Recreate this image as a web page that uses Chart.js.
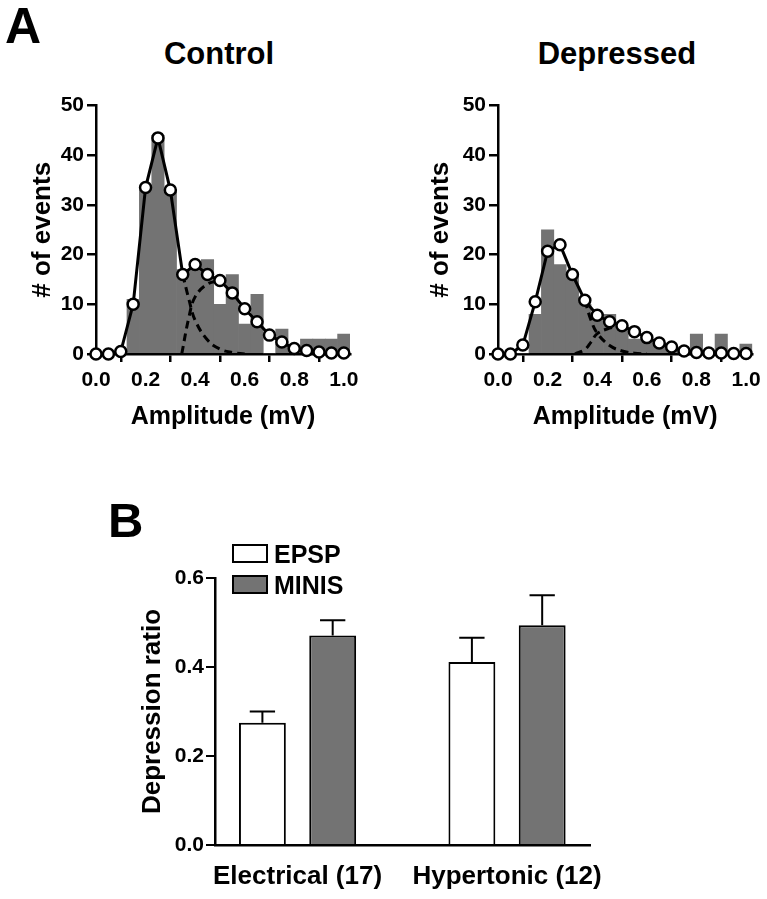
<!DOCTYPE html>
<html>
<head>
<meta charset="utf-8">
<script src="https://cdn.jsdelivr.net/npm/chart.js@4.4.0/dist/chart.umd.min.js"></script>
<style>
  body { margin: 0; background: #fff; }
  #page { position: relative; width: 767px; height: 899px; overflow: hidden; background: #fff;
          font-family: "Liberation Sans", Arial, sans-serif; font-weight: bold; color: #000; }
  .lbl { position: absolute; line-height: 1; white-space: nowrap; }
  .ctr { text-align: center; }
  canvas { position: absolute; }
  .key { position: absolute; width: 32px; height: 15px; border: 2px solid #000; }
</style>
</head>
<body>
<div id="page">
  <div class="lbl" style="left:5px; top:1px; font-size:50px;">A</div>
  <div class="lbl ctr" style="left:119px; top:38px; width:200px; font-size:31px;">Control</div>
  <div class="lbl ctr" style="left:517px; top:38px; width:200px; font-size:31px;">Depressed</div>
  <div class="lbl" style="left:108px; top:496px; font-size:49px;">B</div>

  <canvas id="control" width="383" height="354" style="left:0; top:90px;"></canvas>
  <canvas id="depressed" width="384" height="354" style="left:383px; top:90px;"></canvas>
  <canvas id="ratio" width="767" height="379" style="left:0; top:520px;"></canvas>

  <div class="key" style="left:232px; top:544px; background:#fff;"></div>
  <div class="lbl" style="left:274px; top:542px; font-size:25px;">EPSP</div>
  <div class="key" style="left:232px; top:575px; background:#737373;"></div>
  <div class="lbl" style="left:274px; top:573px; font-size:25px;">MINIS</div>
</div>

<script>
// amplitude bins (mV), one histogram bar and one fit point per bin
const binCenters = [0, 0.05, 0.1, 0.15, 0.2, 0.25, 0.3, 0.35, 0.4, 0.45, 0.5,
                    0.55, 0.6, 0.65, 0.7, 0.75, 0.8, 0.85, 0.9, 0.95, 1.0];
const ampTicks = [0, 0.2, 0.4, 0.6, 0.8, 1.0];
const countTicks = [0, 10, 20, 30, 40, 50];

// Control
const controlCounts = [0, 0, 0, 11, 33, 44, 33, 17, 17, 19, 10, 16, 6, 12, 0, 5, 1, 3, 3, 3, 4];
const controlFit = [0, 0, 0.5, 10, 33.5, 43.5, 33, 16, 18, 16, 14.8, 12.3, 9.1, 6.5, 3.8, 2.4, 1.1, 0.7, 0.4, 0.2, 0.2];
const controlComp1X = [0.35, 0.375, 0.4, 0.45, 0.5, 0.55, 0.6];
const controlComp1Y = [16, 11, 6.8, 2.8, 1.0, 0.3, 0];
const controlComp2X = [0.346, 0.375, 0.4, 0.45, 0.5];
const controlComp2Y = [0, 7.4, 11.5, 14.1, 14.8];

// Depressed
const depressedCounts = [0, 0, 0, 8, 25, 18, 16, 10, 7, 8, 5, 3, 3, 2, 1, 0, 4, 0, 4, 0, 2];
const depressedFit = [0, 0, 1.8, 10.5, 20.7, 22, 16, 10.8, 7.8, 6.5, 5.7, 4.5, 3.3, 2.2, 1.4, 0.6, 0.3, 0.2, 0.2, 0.1, 0.1];
const depressedComp1X = [0.35, 0.375, 0.4, 0.45, 0.5, 0.55, 0.6];
const depressedComp1Y = [10.8, 6.8, 4.2, 1.7, 0.6, 0.15, 0];
const depressedComp2X = [0.31, 0.35, 0.375, 0.4, 0.45, 0.5];
const depressedComp2Y = [0, 0.9, 2.4, 4.1, 5.2, 5.7];

// Panel B
const conditions = ['Electrical (17)', 'Hypertonic (12)'];
const epspRatio = [0.275, 0.411];
const epspSem = [0.025, 0.055];
const minisRatio = [0.471, 0.494];
const minisSem = [0.034, 0.067];
const ratioTicks = [0, 0.2, 0.4, 0.6];

const GREY = '#737373';
Chart.defaults.font.family = '"Liberation Sans", Arial, sans-serif';
Chart.defaults.font.weight = 'bold';
Chart.defaults.color = '#000';
Chart.defaults.animation = false;

const toPoints = (xs, ys) => xs.map((x, i) => ({ x: x, y: ys[i] }));

function histogramChart(id, counts, fit, c1x, c1y, c2x, c2y, yAxisWidth, yTitlePad) {
    new Chart(document.getElementById(id), {
        type: 'bar',
        data: {
            datasets: [
                {
                    type: 'line',
                    data: toPoints(binCenters, fit),
                    borderColor: '#000',
                    borderWidth: 3,
                    pointRadius: 5.5,
                    pointBorderWidth: 2.5,
                    pointBackgroundColor: '#fff',
                    pointBorderColor: '#000',
                    tension: 0,
                    clip: false,
                    order: 1
                },
                {
                    type: 'line',
                    data: toPoints(c1x, c1y),
                    borderColor: '#000',
                    borderWidth: 3,
                    borderDash: [8, 5],
                    pointRadius: 0,
                    tension: 0.4,
                    order: 2
                },
                {
                    type: 'line',
                    data: toPoints(c2x, c2y),
                    borderColor: '#000',
                    borderWidth: 3,
                    borderDash: [8, 5],
                    pointRadius: 0,
                    tension: 0.4,
                    order: 3
                },
                {
                    type: 'bar',
                    data: toPoints(binCenters, counts),
                    backgroundColor: GREY,
                    borderWidth: 0,
                    categoryPercentage: 1,
                    barPercentage: 1,
                    order: 4
                }
            ]
        },
        options: {
            responsive: false,
            layout: { padding: { left: 0, right: 383 - 254 - yAxisWidth, top: 15, bottom: 0 } },
            plugins: { legend: { display: false }, tooltip: { enabled: false } },
            scales: {
                x: {
                    type: 'linear',
                    min: 0,
                    max: 1.025,
                    offset: false,
                    afterFit: s => { s.height = 90; },
                    afterBuildTicks: s => { s.ticks = ampTicks.map(v => ({ value: v })); },
                    ticks: { font: { size: 21 }, padding: 6, callback: v => v.toFixed(1) },
                    grid: { drawOnChartArea: false, drawTicks: true, tickLength: 8, color: '#000', lineWidth: 2.5 },
                    border: { color: '#000', width: 2.5 },
                    title: { display: true, text: 'Amplitude (mV)', font: { size: 25 }, padding: { bottom: 12 } }
                },
                y: {
                    min: 0,
                    max: 50,
                    afterFit: s => { s.width = yAxisWidth; },
                    afterBuildTicks: s => { s.ticks = countTicks.map(v => ({ value: v })); },
                    ticks: { font: { size: 21 }, padding: 3 },
                    grid: { drawOnChartArea: false, drawTicks: true, tickLength: 9, color: '#000', lineWidth: 2.5 },
                    border: { color: '#000', width: 2.5 },
                    title: { display: true, text: '# of events', font: { size: 26 }, padding: { top: yTitlePad } }
                }
            }
        }
    });
}

histogramChart('control', controlCounts, controlFit,
    controlComp1X, controlComp1Y, controlComp2X, controlComp2Y, 96, 27);
histogramChart('depressed', depressedCounts, depressedFit,
    depressedComp1X, depressedComp1Y, depressedComp2X, depressedComp2Y, 115, 42);

const errorBars = {
    id: 'errorBars',
    afterDatasetsDraw(chart) {
        const ctx = chart.ctx;
        const yScale = chart.scales.y;
        chart.data.datasets.forEach((ds, i) => {
            const meta = chart.getDatasetMeta(i);
            meta.data.forEach((bar, j) => {
                const top = yScale.getPixelForValue(ds.data[j].y + ds.errors[j]);
                const half = bar.width * 0.27;
                ctx.save();
                ctx.strokeStyle = '#000';
                ctx.lineWidth = 2;
                ctx.beginPath();
                ctx.moveTo(bar.x, bar.y);
                ctx.lineTo(bar.x, top);
                ctx.moveTo(bar.x - half, top);
                ctx.lineTo(bar.x + half, top);
                ctx.stroke();
                ctx.restore();
            });
        });
    }
};

new Chart(document.getElementById('ratio'), {
    type: 'bar',
    data: {
        datasets: [
            {
                label: 'EPSP',
                data: conditions.map((c, i) => ({ x: i, y: epspRatio[i] })),
                errors: epspSem,
                backgroundColor: '#fff',
                borderColor: '#000',
                borderWidth: 2,
                categoryPercentage: 0.671,
                barPercentage: 0.667
            },
            {
                label: 'MINIS',
                data: conditions.map((c, i) => ({ x: i, y: minisRatio[i] })),
                errors: minisSem,
                backgroundColor: GREY,
                borderColor: '#000',
                borderWidth: 2,
                categoryPercentage: 0.671,
                barPercentage: 0.667
            }
        ]
    },
    options: {
        responsive: false,
        layout: { padding: { left: 120, right: 177, top: 58, bottom: 0 } },
        plugins: { legend: { display: false }, tooltip: { enabled: false } },
        scales: {
            x: {
                type: 'linear',
                min: -0.394,
                max: 1.396,
                offset: false,
                afterFit: s => { s.height = 54; },
                afterBuildTicks: s => { s.ticks = conditions.map((c, i) => ({ value: i })); },
                ticks: { font: { size: 26 }, padding: 16, callback: v => conditions[v] },
                grid: { drawOnChartArea: false, drawTicks: false },
                border: { color: '#000', width: 2.5 }
            },
            y: {
                min: 0,
                max: 0.6,
                afterFit: s => { s.width = 95; },
                afterBuildTicks: s => { s.ticks = ratioTicks.map(v => ({ value: v })); },
                ticks: { font: { size: 21 }, padding: 2, callback: v => v.toFixed(1) },
                grid: { drawOnChartArea: false, drawTicks: true, tickLength: 9, color: '#000', lineWidth: 2 },
                border: { color: '#000', width: 2.5 },
                title: { display: true, text: 'Depression ratio', font: { size: 26 }, padding: { top: 17 } }
            }
        }
    },
    plugins: [errorBars]
});
</script>
</body>
</html>
